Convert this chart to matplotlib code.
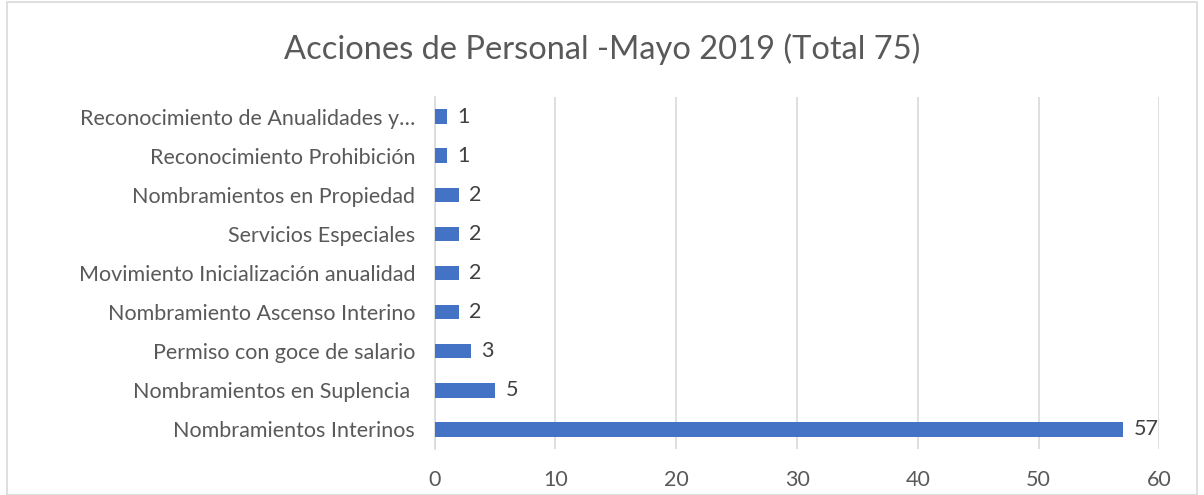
import matplotlib
matplotlib.use("Agg")
import matplotlib.pyplot as plt
from matplotlib.patches import Rectangle

# datos
categorias = [
    "Nombramientos Interinos",
    "Nombramientos en Suplencia ",
    "Permiso con goce de salario",
    "Nombramiento Ascenso Interino",
    "Movimiento Inicialización anualidad",
    "Servicios Especiales",
    "Nombramientos en Propiedad",
    "Reconocimiento Prohibición",
    "Reconocimiento de Anualidades y…",
]
valores = [57, 5, 3, 2, 2, 2, 2, 1, 1]
ticks_x = [0, 10, 20, 30, 40, 50, 60]

plt.rcParams['font.family'] = ['Lato', 'DejaVu Sans']
texto = "#595959"

fig = plt.figure(figsize=(12.04, 4.95), dpi=100)
ax = fig.add_axes([0.361, 0.093, 0.602, 0.711])

pos = list(range(len(categorias)))
ax.barh(pos, valores, height=0.37, color="#4472C4", zorder=3)
for p, v in zip(pos, valores):
    ax.text(v + 0.85, p, str(v), va="center", ha="left", fontsize=15.5, color="#404040")

ax.set_xlim(0, 60)
ax.set_ylim(-0.5, len(categorias) - 0.5)
ax.set_xticks(ticks_x)
ax.set_yticks(pos)
ax.set_yticklabels(categorias)
ax.tick_params(axis="both", length=0, labelsize=15.5, colors=texto)
ax.tick_params(axis="x", pad=15)
ax.tick_params(axis="y", pad=14)
ax.grid(axis="x", color="#D9D9D9", linewidth=1.2, zorder=0)
for s in ["top", "right", "bottom"]:
    ax.spines[s].set_visible(False)
ax.spines["left"].set_color("#D9D9D9")
ax.spines["left"].set_linewidth(1.2)

fig.text(0.5, 0.9, "Acciones de Personal -Mayo 2019 (Total 75)", ha="center", va="center",
         fontsize=23.5, color=texto)

# borde del gráfico
fig.patches.append(Rectangle((0.006, 0.0), 0.988, 0.995, transform=fig.transFigure,
                             fill=False, edgecolor="#D9D9D9", linewidth=1.2))

fig.savefig("out.png", dpi=100)
